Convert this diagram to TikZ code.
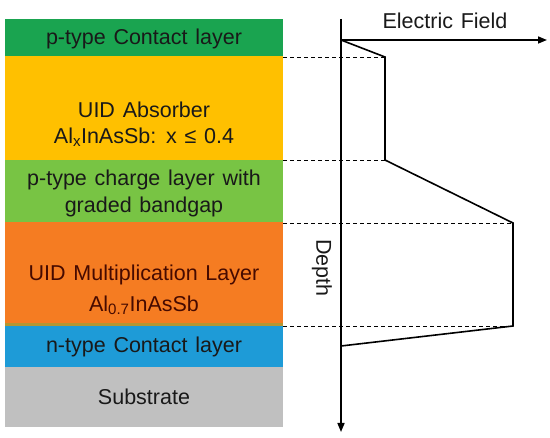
\documentclass[tikz,border=0pt]{standalone}
\usepackage{fontspec}
\setmainfont{Liberation Sans}[WordSpace={1.3}]
\usetikzlibrary{arrows.meta}
\definecolor{pgreen}{RGB}{26,164,80}
\definecolor{absorb}{RGB}{255,192,0}
\definecolor{charge}{RGB}{120,196,68}
\definecolor{mult}{RGB}{245,124,34}
\definecolor{olive}{RGB}{180,150,50}
\definecolor{ntype}{RGB}{30,155,215}
\definecolor{subst}{RGB}{192,192,192}
\definecolor{multtext}{RGB}{70,10,0}
\begin{document}
\begin{tikzpicture}[x=1pt,y=-1pt,
  layerbox/.style={draw=none, inner sep=0pt, minimum width=278pt, anchor=north west},
  lbl/.style={font=\fontsize{21.5}{24}\selectfont, inner sep=0pt, text=black!90},
  axisline/.style={line width=1.6pt, -{Triangle[length=9pt,width=7pt]}},
  fieldline/.style={line width=1.6pt, line join=miter},
  guide/.style={line width=0.9pt, dash pattern=on 4pt off 3pt}]
\useasboundingbox[fill=white] (0,0) rectangle (550,438);
% layers
\node[layerbox, fill=pgreen, minimum height=37pt] (pc) at (5,19) {};
\node[layerbox, fill=absorb, minimum height=104pt] (ab) at (5,56) {};
\node[layerbox, fill=charge, minimum height=62pt] (ch) at (5,160) {};
\node[layerbox, fill=mult, minimum height=104pt] (mu) at (5,222) {};
\node[layerbox, fill=olive, minimum height=3pt] (ol) at (5,323) {};
\node[layerbox, fill=ntype, minimum height=41pt] (nc) at (5,326) {};
\node[layerbox, fill=subst, minimum height=60pt] (su) at (5,367) {};
% labels
\node[lbl] (t1) at (144,39) {p-type Contact layer};
\node[lbl] (t2) at (144,110) {UID Absorber};
\node[lbl] (t3) at (144,137) {Al\textsubscript{x}InAsSb: x ≤ 0.4};
\node[lbl] (t4) at (144,180) {p-type charge layer with};
\node[lbl] (t5) at (144,207) {graded bandgap};
\node[lbl, text=multtext] (t6) at (144,275) {UID Multiplication Layer};
\node[lbl, text=multtext] (t7) at (144,305) {Al\textsubscript{0.7}InAsSb};
\node[lbl] (t8) at (144,347) {n-type Contact layer};
\node[lbl] (t9) at (144,397) {Substrate};
% axes
\coordinate (top) at (341,19);
\coordinate (bot) at (341,432);
\coordinate (o) at (341,40);
\coordinate (ef) at (547,40);
\draw[axisline] (top) -- (bot);
\draw[axisline] (o) -- (ef);
\node[lbl] (eflbl) at (445,21) {Electric Field};
\node[lbl, rotate=-90] (depth) at (322,268) {Depth};
% field profile
\coordinate (f1) at (385,57);
\coordinate (f2) at (385,160);
\coordinate (f3) at (513,223);
\coordinate (f4) at (513,326);
\coordinate (f5) at (341,346);
\draw[fieldline] (o) -- (f1) -- (f2) -- (f3) -- (f4) -- (f5);
% guides
\coordinate (g1) at (283,57);
\coordinate (g2) at (283,160);
\coordinate (g3) at (283,223);
\coordinate (g4) at (283,326);
\draw[guide] (g1) -- (f1);
\draw[guide] (g2) -- (f2);
\draw[guide] (g3) -- (f3);
\draw[guide] (g4) -- (f4);
\end{tikzpicture}
\end{document}
